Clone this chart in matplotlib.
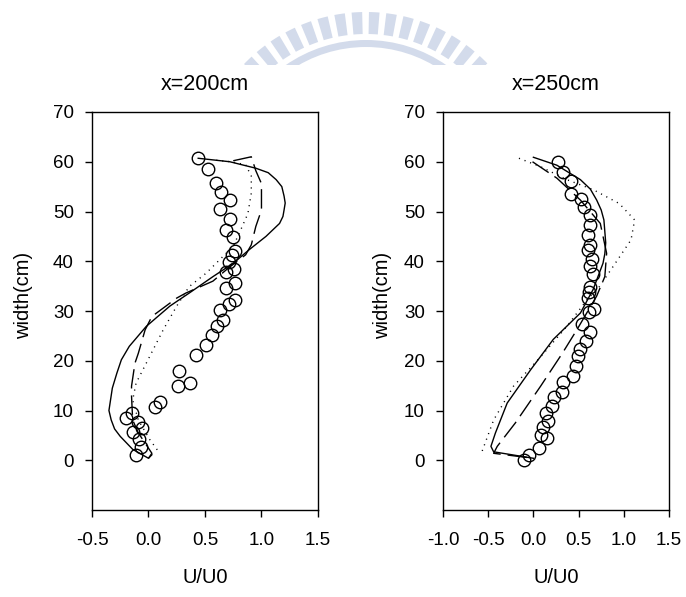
import matplotlib
matplotlib.use('Agg')
import matplotlib.pyplot as plt
from matplotlib.patches import Wedge, Rectangle

plt.rcParams['font.family'] = ['Liberation Sans', 'DejaVu Sans']

# ---- x = 200 cm ----
meas200_u = [0.44, 0.53, 0.60, 0.64, 0.72, 0.63, 0.72, 0.69, 0.75, 0.77, 0.74, 0.71, 0.76,
             0.69, 0.77, 0.69, 0.77, 0.71, 0.63, 0.66, 0.61, 0.56, 0.51, 0.42, 0.27, 0.37,
             0.26, 0.10, 0.06, -0.15, -0.20, -0.09, -0.06, -0.14, -0.08, -0.07, -0.11]
meas200_w = [60.7, 58.5, 55.7, 54.0, 52.4, 50.5, 48.5, 46.3, 44.9, 42.0, 41.2, 39.8, 38.5,
             37.8, 35.6, 34.7, 32.3, 31.5, 30.2, 28.2, 26.9, 25.1, 23.1, 21.2, 18.0, 15.5,
             15.0, 11.7, 10.7, 9.5, 8.5, 7.7, 6.4, 5.7, 4.3, 2.6, 1.1]

solid200_u = [0.44, 0.72, 0.95, 1.06, 1.13, 1.18, 1.20, 1.21, 1.20, 1.19, 1.16, 1.04, 0.89,
              0.75, 0.57, 0.36, 0.19, -0.02, -0.17, -0.24, -0.28, -0.32, -0.35, -0.33,
              -0.30, -0.25, -0.14, 0.00, 0.03]
solid200_w = [60.7, 60.0, 58.7, 57.8, 56.4, 55.0, 53.1, 51.7, 50.3, 49.0, 47.6, 45.0, 42.3,
              39.6, 36.9, 33.6, 31.0, 26.9, 22.9, 20.2, 17.5, 14.5, 10.0, 8.1,
              6.3, 4.8, 2.2, 0.4, 1.1]

dash200_u = [0.75, 0.91, 0.95, 1.00, 1.00, 0.95, 0.91, 0.86, 0.70, 0.57, 0.33, 0.25, 0.03,
             -0.03, -0.09, -0.12, -0.15, -0.15, -0.14, -0.09, 0.03, 0.00]
dash200_w = [60.2, 61.0, 58.2, 55.6, 50.3, 47.0, 43.3, 41.3, 38.5, 36.0, 33.6, 32.6, 28.9,
             26.2, 21.5, 19.5, 14.9, 12.9, 8.1, 5.5, 1.4, 0.4]

dot200_u = [0.60, 0.73, 0.86, 0.91, 0.91, 0.88, 0.83, 0.75, 0.63, 0.51, 0.36, 0.25, 0.13,
            -0.02, -0.11, -0.14, -0.09, 0.01, 0.10]
dot200_w = [60.3, 60.0, 59.4, 57.1, 53.7, 49.6, 47.0, 43.0, 40.3, 37.6, 34.9, 31.0, 26.2,
            19.5, 15.5, 12.1, 8.1, 4.2, 1.4]

# ---- x = 250 cm ----
meas250_u = [0.27, 0.33, 0.42, 0.42, 0.53, 0.56, 0.63, 0.63, 0.60, 0.63, 0.60, 0.65, 0.63,
             0.66, 0.63, 0.61, 0.60, 0.67, 0.61, 0.54, 0.63, 0.58, 0.52, 0.49, 0.47, 0.44,
             0.33, 0.32, 0.23, 0.21, 0.14, 0.16, 0.11, 0.08, 0.15, 0.06, -0.05, -0.10]
meas250_w = [59.9, 58.0, 56.1, 53.5, 52.6, 51.0, 49.3, 47.3, 45.2, 43.2, 42.2, 40.5, 39.1,
             37.5, 34.9, 33.8, 32.6, 30.4, 29.9, 27.4, 25.7, 23.9, 22.3, 21.0, 19.0, 16.9,
             15.8, 13.8, 12.8, 11.0, 9.5, 7.9, 6.7, 5.0, 4.4, 2.4, 1.1, 0.1]

solid250_u = [0.00, 0.26, 0.52, 0.63, 0.70, 0.75, 0.78, 0.80, 0.79, 0.77, 0.66, 0.52, 0.22,
              -0.03, -0.29, -0.42, -0.47, -0.44, 0.00]
solid250_w = [60.9, 59.3, 56.4, 54.5, 52.3, 50.3, 48.3, 43.7, 41.5, 39.6, 34.3, 29.6, 24.3,
              18.2, 11.5, 5.5, 2.8, 1.7, 0.4]

dash250_u = [-0.01, 0.26, 0.52, 0.74, 0.81, 0.79, 0.70, 0.48, 0.32, 0.08, -0.20, -0.40,
             -0.44, 0.00]
dash250_w = [60.0, 56.7, 52.3, 47.6, 41.6, 36.9, 33.0, 26.2, 21.5, 14.9, 7.5, 2.8, 1.4, 0.4]

dot250_u = [-0.16, 0.08, 0.37, 0.66, 0.95, 1.12, 1.08, 0.88, 0.73, 0.59, 0.37, 0.08,
            -0.22, -0.44, -0.57]
dot250_w = [60.7, 59.0, 56.4, 54.4, 51.6, 48.3, 44.3, 38.9, 34.9, 32.2, 26.9, 20.8,
            14.9, 8.1, 1.7]

fig = plt.figure(figsize=(6.86, 5.97), dpi=100)

# faint watermark arch at the top (pixel coordinates, y pointing down)
wm = fig.add_axes([0, 0, 1, 1], zorder=-5)
wm.set_xlim(0, 686)
wm.set_ylim(597, 0)
wm.axis('off')
clip = Rectangle((0, 0), 686, 65, transform=wm.transData)
wm_color = '#d3dbeb'
ang = 212.0
while ang < 328.0:
    w = Wedge((366, 181), 169, ang, ang + 3.6, width=22, color=wm_color, lw=0)
    wm.add_patch(w)
    w.set_clip_path(clip)
    ang += 5.9
band = Wedge((366, 181), 141, 200, 340, width=7, color=wm_color, lw=0)
wm.add_patch(band)
band.set_clip_path(clip)

panels = [
    ([0.1341, 0.1457, 0.3294, 0.6667], 'x=200cm', (-0.5, 1.5), [-0.5, 0.0, 0.5, 1.0, 1.5],
     meas200_u, meas200_w, solid200_u, solid200_w, dash200_u, dash200_w, dot200_u, dot200_w, -0.261),
    ([0.6458, 0.1457, 0.3294, 0.6667], 'x=250cm', (-1.0, 1.5), [-1.0, -0.5, 0.0, 0.5, 1.0, 1.5],
     meas250_u, meas250_w, solid250_u, solid250_w, dash250_u, dash250_w, dot250_u, dot250_w, -0.226),
]

for (pos, title, xlim, xticks, mu, mw, su, sw, du, dw, pu, pw, ylab_x) in panels:
    ax = fig.add_axes(pos)
    ax.plot(pu, pw, color='black', lw=1.0, linestyle=(0, (0.8, 3.5)))
    ax.plot(du, dw, color='black', lw=1.0, linestyle=(0, (14, 5)))
    ax.plot(su, sw, color='black', lw=1.0)
    ax.plot(mu, mw, 'o', mfc='none', mec='black', ms=9, mew=1.0)
    ax.set_xlim(*xlim)
    ax.set_ylim(-10, 70)
    ax.set_xticks(xticks)
    ax.set_xticklabels(['%.1f' % t for t in xticks])
    ax.set_yticks(range(0, 71, 10))
    ax.tick_params(axis='both', direction='out', length=5, width=1, labelsize=13.5)
    ax.tick_params(axis='x', pad=11)
    ax.tick_params(axis='y', pad=8)
    for s in ax.spines.values():
        s.set_linewidth(1.0)
    ax.set_title(title, fontsize=15.5, pad=16)
    ax.set_xlabel('U/U0', fontsize=14.5)
    ax.set_ylabel('width(cm)', fontsize=14.5)
    ax.xaxis.set_label_coords(0.5, -0.145)
    ax.yaxis.set_label_coords(ylab_x, 0.54)

fig.savefig('out.png', dpi=100)
